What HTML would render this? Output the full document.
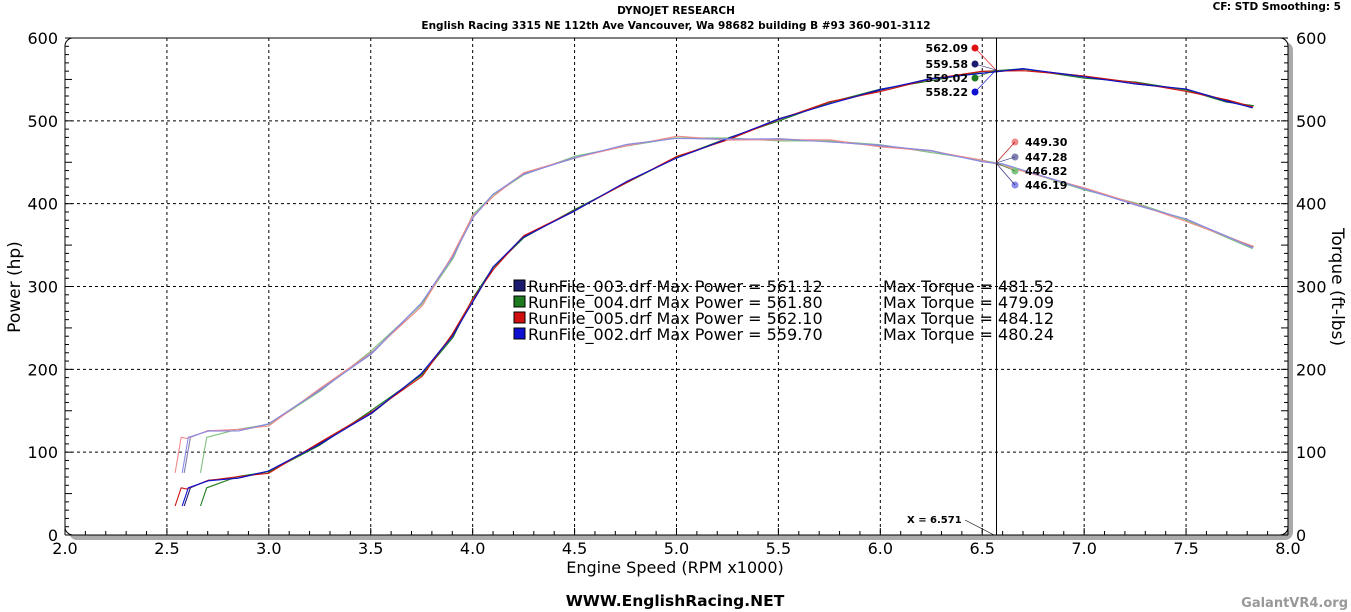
<!DOCTYPE html>
<html><head><meta charset="utf-8"><style>
html,body{margin:0;padding:0;background:#fff;width:1351px;height:612px;overflow:hidden}
svg{display:block}
text{font-family:"DejaVu Sans","Liberation Sans",sans-serif}
</style></head><body>
<svg id="s" width="1351" height="612" xmlns="http://www.w3.org/2000/svg">
<rect x="69" y="42" width="1224" height="498" rx="8" fill="#aaa"/>
<rect x="65" y="38" width="1223" height="497" rx="8" fill="#fff" stroke="#000" stroke-width="1"/>
<g id="grid"></g>
<g id="curves"></g>
<text x="676" y="14" font-size="10.5" font-weight="bold" text-anchor="middle">DYNOJET RESEARCH</text>
<text x="676" y="29" font-size="10.5" font-weight="bold" text-anchor="middle">English Racing 3315 NE 112th Ave Vancouver, Wa 98682 building B #93 360-901-3112</text>
<text x="1341" y="10" font-size="10.5" font-weight="bold" text-anchor="end">CF: STD  Smoothing: 5</text>
<text x="675" y="606" font-size="15.5" font-weight="bold" text-anchor="middle">WWW.EnglishRacing.NET</text>
<text x="1348" y="607" font-size="13" font-weight="bold" fill="#999" text-anchor="end">GalantVR4.org</text>
<text x="675" y="573" font-size="16" text-anchor="middle">Engine Speed (RPM x1000)</text>
<text transform="translate(20,287) rotate(-90)" font-size="17" text-anchor="middle">Power (hp)</text>
<text transform="translate(1332,287) rotate(90)" font-size="17" text-anchor="middle">Torque (ft-lbs)</text>
<g font-size="16">
<rect x="514" y="280" width="11" height="11" fill="#1a1a6e" stroke="#000"/>
<rect x="514" y="296" width="11" height="11" fill="#1e7a1e" stroke="#000"/>
<rect x="514" y="312" width="11" height="11" fill="#d01010" stroke="#000"/>
<rect x="514" y="328" width="11" height="11" fill="#1010d0" stroke="#000"/>
<text x="528" y="292">RunFile_003.drf Max Power = 561.12</text><text x="883" y="292">Max Torque = 481.52</text>
<text x="528" y="308">RunFile_004.drf Max Power = 561.80</text><text x="883" y="308">Max Torque = 479.09</text>
<text x="528" y="324">RunFile_005.drf Max Power = 562.10</text><text x="883" y="324">Max Torque = 484.12</text>
<text x="528" y="340">RunFile_002.drf Max Power = 559.70</text><text x="883" y="340">Max Torque = 480.24</text>
</g>
<line x1="996.5" y1="38" x2="996.5" y2="535" stroke="#000"/>
<text x="907" y="523" font-size="10" font-weight="bold">X = 6.571</text>
<line x1="965" y1="520" x2="994" y2="535" stroke="#000" stroke-width="0.7"/>
<g font-size="11" font-weight="bold">
<text x="968" y="52" text-anchor="end">562.09</text><circle cx="975" cy="48" r="3.5" fill="#e01010"/><line x1="975" y1="48" x2="996" y2="70" stroke="#e01010" stroke-width=".6"/>
<text x="968" y="68" text-anchor="end">559.58</text><circle cx="975" cy="64" r="3.5" fill="#1a1a6e"/><line x1="975" y1="64" x2="996" y2="70" stroke="#1a1a6e" stroke-width=".6"/>
<text x="968" y="82" text-anchor="end">559.02</text><circle cx="975" cy="78" r="3.5" fill="#1e7a1e"/><line x1="975" y1="78" x2="996" y2="70" stroke="#1e7a1e" stroke-width=".6"/>
<text x="968" y="96" text-anchor="end">558.22</text><circle cx="975" cy="92" r="3.5" fill="#1010d0"/><line x1="975" y1="92" x2="996" y2="70" stroke="#1010d0" stroke-width=".6"/>
<text x="1025" y="146">449.30</text><circle cx="1015" cy="142" r="3.5" fill="#f08a8a"/><line x1="1015" y1="142" x2="996" y2="163" stroke="#a00" stroke-width=".6"/>
<text x="1025" y="161">447.28</text><circle cx="1015" cy="157" r="3.5" fill="#8080b0"/><line x1="1015" y1="157" x2="996" y2="163" stroke="#1a1a6e" stroke-width=".6"/>
<text x="1025" y="175">446.82</text><circle cx="1015" cy="171" r="3.5" fill="#80c080"/><line x1="1015" y1="171" x2="996" y2="163" stroke="#1e7a1e" stroke-width=".6"/>
<text x="1025" y="189">446.19</text><circle cx="1015" cy="185" r="3.5" fill="#8a8ae8"/><line x1="1015" y1="185" x2="996" y2="163" stroke="#1a1a6e" stroke-width=".6"/>
</g>
</svg>
<script>
(function(){
var ns="http://www.w3.org/2000/svg",s=document.getElementById('s'),g=document.getElementById('grid'),c=document.getElementById('curves');
function X(v){return 65+(v-2)*203.83}function Y(p){return 535-p*0.8283}
function el(t,a,p){var e=document.createElementNS(ns,t);for(var k in a)e.setAttribute(k,a[k]);if(p)p.appendChild(e);return e}
for(var i=1;i<12;i++){var x=X(2+i*0.5);el('line',{x1:x,y1:38,x2:x,y2:535,stroke:'#000','stroke-dasharray':'3,3','stroke-width':1},g);}
for(var j=1;j<6;j++){var y=Y(j*100);el('line',{x1:65,y1:y,x2:1288,y2:y,stroke:'#000','stroke-dasharray':'3,3','stroke-width':1},g);}
for(var i=0;i<=60;i++){var x=X(2+i*0.1),L=i%5==0?7:4;el('line',{x1:x,y1:535,x2:x,y2:535-L,stroke:'#000'},g);}
for(var j=0;j<=60;j++){var y=Y(j*10),L=j%5==0?7:4;el('line',{x1:65,y1:y,x2:65+L,y2:y,stroke:'#000'},g);el('line',{x1:1288,y1:y,x2:1288-L,y2:y,stroke:'#000'},g);}
for(var i=0;i<=12;i++){var t=el('text',{x:X(2+i*0.5),y:554,'font-size':16,'text-anchor':'middle'},s);t.textContent=(2+i*0.5).toFixed(1);}
for(var j=0;j<=6;j++){var t=el('text',{x:58,y:Y(j*100)+6,'font-size':16,'text-anchor':'end'},s);t.textContent=j*100;
t=el('text',{x:1296,y:Y(j*100)+6,'font-size':16},s);t.textContent=j*100;}
var P=[[2.6,57],[2.7,65],[2.85,70],[3.0,76],[3.25,110],[3.5,148],[3.75,193],[3.9,240],[4.0,284],[4.1,322],[4.25,360],[4.5,392],[4.75,425],[5.0,456],[5.25,478],[5.5,501],[5.75,522],[6.0,537],[6.25,550],[6.5,559],[6.7,562],[7.0,553],[7.25,546],[7.5,537],[7.7,524],[7.83,517]];
var T=[[2.6,118],[2.7,125],[2.85,127],[3.0,133],[3.25,175],[3.5,220],[3.75,278],[3.9,335],[4.0,385],[4.1,410],[4.25,436],[4.5,456],[4.75,470],[5.0,480],[5.25,478],[5.5,477],[5.75,476],[6.0,470],[6.25,463],[6.5,452],[6.6,447],[7.0,418],[7.25,400],[7.5,380],[7.83,347]];
var runs=[{s:2.585,pc:'#1a1a6e',tc:'#8080b0'},{s:2.665,pc:'#1e7a1e',tc:'#80c080'},{s:2.54,pc:'#d01010',tc:'#f08a8a'},{s:2.575,pc:'#1010d0',tc:'#8a8ae8'}];
function jit(k,i,amp){return Math.sin(i*1.7+k*2.3)*amp}
runs.forEach(function(r,k){
 [[P,r.pc,35,57],[T,r.tc,75,118]].forEach(function(q){
  var d=[[r.s,q[2]],[r.s+0.03,q[3]]];
  q[0].forEach(function(p,i){if(p[0]>r.s+0.04)d.push([p[0]+jit(k,i,0.004),p[1]+jit(k,i*1.3,1.5)]);});
  var pts=d.map(function(p){return X(p[0]).toFixed(1)+','+Y(p[1]).toFixed(1)}).join(' ');
  el('polyline',{points:pts,fill:'none',stroke:q[1],'stroke-width':1.1,'stroke-linejoin':'round'},c);
 });
});
})();
</script>
</body></html>
